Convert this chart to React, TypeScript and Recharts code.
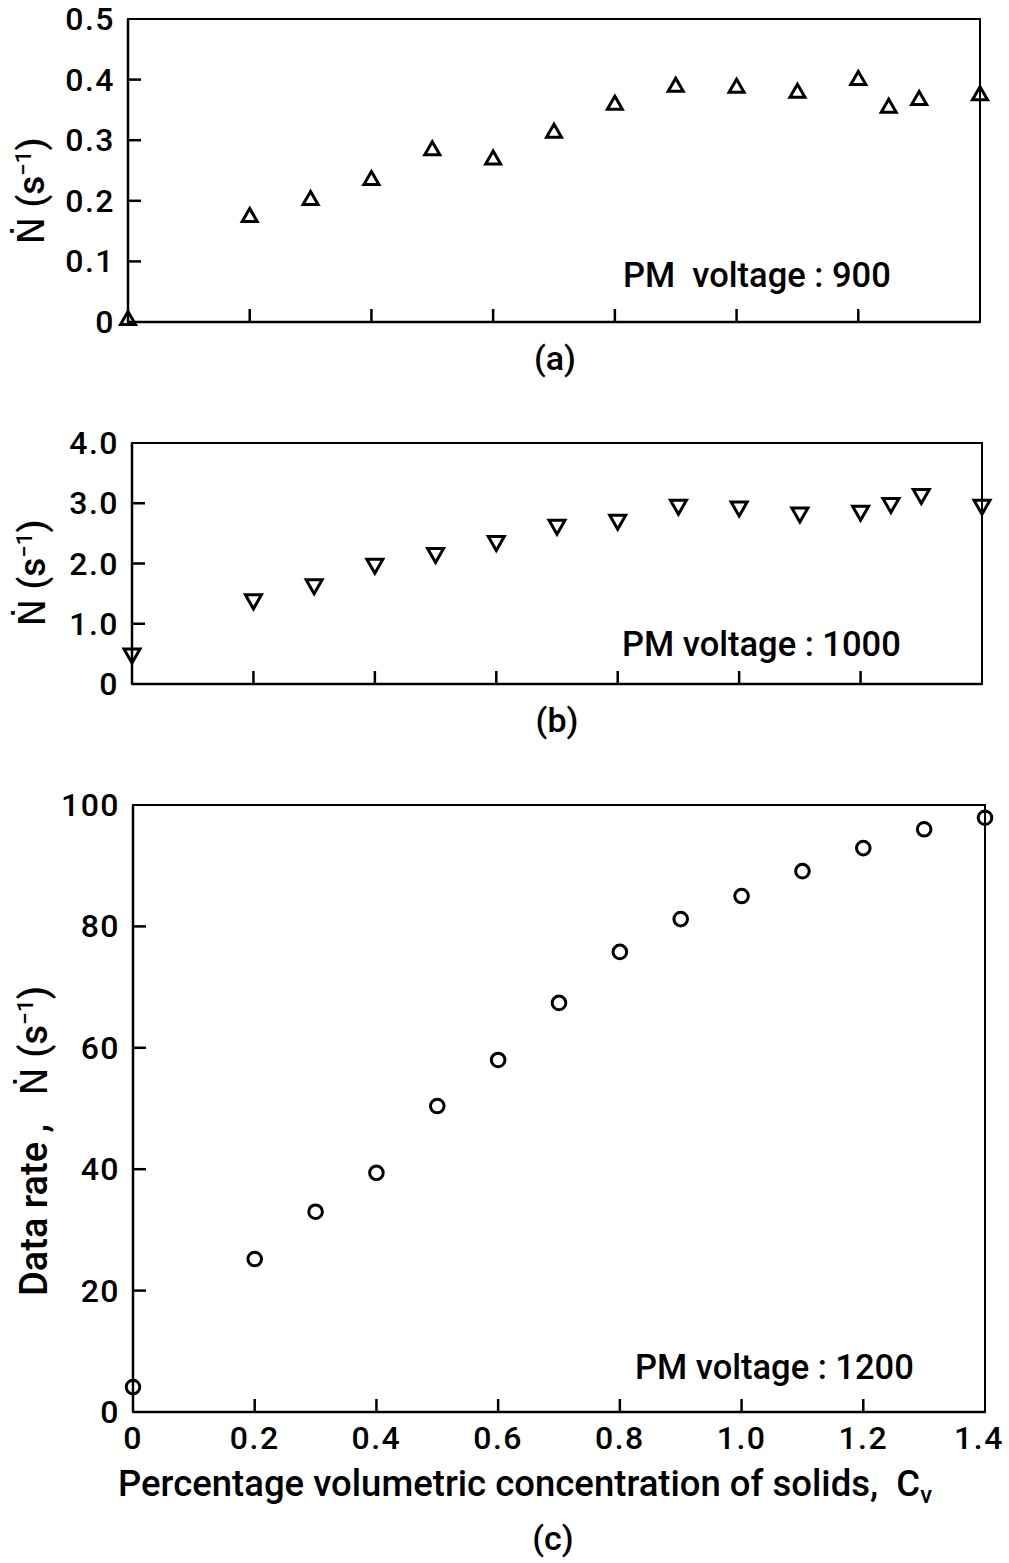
import React from 'react';
import { ScatterChart, Scatter, XAxis, YAxis, ReferenceArea } from 'recharts';

// ---- data ----
const concA = [0, 0.2, 0.3, 0.4, 0.5, 0.6, 0.7, 0.8, 0.9, 1.0, 1.1, 1.2, 1.25, 1.3, 1.4];
const rateA = [0.005, 0.175, 0.203, 0.236, 0.285, 0.27, 0.314, 0.36, 0.39, 0.388, 0.38, 0.401, 0.355, 0.368, 0.376];

const concB = [0, 0.2, 0.3, 0.4, 0.5, 0.6, 0.7, 0.8, 0.9, 1.0, 1.1, 1.2, 1.25, 1.3, 1.4];
const rateB = [0.48, 1.38, 1.63, 1.97, 2.15, 2.35, 2.62, 2.7, 2.95, 2.92, 2.82, 2.85, 2.98, 3.13, 2.95];

const concC = [0, 0.2, 0.3, 0.4, 0.5, 0.6, 0.7, 0.8, 0.9, 1.0, 1.1, 1.2, 1.3, 1.4];
const rateC = [4.1, 25.2, 33, 39.4, 50.4, 58, 67.4, 75.8, 81.2, 85, 89.1, 92.9, 96, 97.9];

const xTicks = [0, 0.2, 0.4, 0.6, 0.8, 1.0, 1.2, 1.4];
const xTickLabels = ['0', '0.2', '0.4', '0.6', '0.8', '1.0', '1.2', '1.4'];

const yTicksA = [0, 0.1, 0.2, 0.3, 0.4, 0.5];
const yTickLabelsA = ['0', '0.1', '0.2', '0.3', '0.4', '0.5'];
const yTicksB = [0, 1, 2, 3, 4];
const yTickLabelsB = ['0', '1.0', '2.0', '3.0', '4.0'];
const yTicksC = [0, 20, 40, 60, 80, 100];
const yTickLabelsC = ['0', '20', '40', '60', '80', '100'];

const zip = (xs: number[], ys: number[]) => xs.map((x, i) => ({ x, y: ys[i] }));
const dataA = zip(concA, rateA);
const dataB = zip(concB, rateB);
const dataC = zip(concC, rateC);

const FONT = 'Roboto, "DejaVu Sans", sans-serif';
const WEIGHT = 500;
const TICK_LEN = 13;
const SW = 2.5;

const makeXTick = (labels: string[] | null) => (props: any) => {
  const { x, y, index } = props;
  const inner = index > 0 && index < xTicks.length - 1;
  const last = index === xTicks.length - 1;
  return (
    <g>
      {inner && <line x1={x} y1={y} x2={x} y2={y - TICK_LEN} stroke="#000" strokeWidth={SW} />}
      {labels && (
        <text x={last ? x - 6 : x} y={y + 26} textAnchor="middle" dominantBaseline="central" fontFamily={FONT} fontWeight={WEIGHT} fontSize={32} fill="#000" letterSpacing={1.5}>
          {labels[index]}
        </text>
      )}
    </g>
  );
};

const makeYTick = (labels: string[]) => (props: any) => {
  const { x, y, index } = props;
  const inner = index > 0 && index < labels.length - 1;
  return (
    <g>
      {inner && <line x1={x} y1={y} x2={x + TICK_LEN} y2={y} stroke="#000" strokeWidth={SW} />}
      <text x={x - 13} y={y} textAnchor="end" dominantBaseline="central" fontFamily={FONT} fontWeight={WEIGHT} fontSize={32} fill="#000" letterSpacing={1.5}>
        {labels[index]}
      </text>
    </g>
  );
};

const TriUp = (p: any) => {
  const { cx, cy } = p;
  return <path d={`M${cx},${cy - 7.5} L${cx - 7.5},${cy + 5.5} L${cx + 7.5},${cy + 5.5} Z`} fill="none" stroke="#000" strokeWidth={3} strokeLinejoin="miter" />;
};
const TriDown = (p: any) => {
  const { cx, cy } = p;
  return <path d={`M${cx - 8},${cy - 6} L${cx + 8},${cy - 6} L${cx},${cy + 8} Z`} fill="none" stroke="#000" strokeWidth={3} strokeLinejoin="miter" />;
};
const Circ = (p: any) => {
  const { cx, cy } = p;
  return <circle cx={cx} cy={cy} r={6.8} fill="none" stroke="#000" strokeWidth={3} />;
};

const abs = (left: number, top: number, extra: React.CSSProperties = {}): React.CSSProperties => ({
  position: 'absolute',
  left,
  top,
  fontFamily: FONT,
  fontWeight: WEIGHT,
  color: '#000',
  lineHeight: 1,
  whiteSpace: 'nowrap',
  ...extra,
});

const NDot = () => (
  <span>
    Ṅ (s<sup style={{ fontSize: '0.6em', verticalAlign: '0.6em' }}>−1</sup>)
  </span>
);

export default function App() {
  return (
    <div style={{ position: 'absolute', left: 0, top: 0, width: 1009, height: 1563, background: '#fff', overflow: 'hidden' }}>
      {/* Panel (a) */}
      <div style={{ position: 'absolute', left: 0, top: 0 }}>
        <ScatterChart width={1009} height={340} margin={{ top: 19, right: 29, left: 0, bottom: 0 }}>
          <XAxis type="number" dataKey="x" domain={[0, 1.4]} ticks={xTicks} interval={0} height={18}
            tickSize={0} tickMargin={0} tickLine={false} axisLine={{ stroke: '#000', strokeWidth: SW }} tick={makeXTick(null)} />
          <YAxis type="number" dataKey="y" domain={[0, 0.5]} ticks={yTicksA} interval={0} width={128}
            tickSize={0} tickMargin={0} tickLine={false} axisLine={{ stroke: '#000', strokeWidth: SW }} tick={makeYTick(yTickLabelsA)} />
          <ReferenceArea x1={0} x2={1.4} y1={0} y2={0.5} fill="none" stroke="#000" strokeWidth={2} ifOverflow="visible" />
          <Scatter data={dataA} dataKey="y" shape={TriUp} isAnimationActive={false} />
        </ScatterChart>
      </div>
      <div style={abs(31, 191, { fontSize: 37, transform: 'translate(-50%, -50%) rotate(-90deg)' })}><NDot /></div>
      <div style={abs(623, 275, { fontSize: 34.5, transform: 'translateY(-50%)' })}>PM&nbsp;&nbsp;voltage : 900</div>
      <div style={abs(555, 358, { fontSize: 34, transform: 'translate(-50%, -50%)' })}>(a)</div>

      {/* Panel (b) */}
      <div style={{ position: 'absolute', left: 0, top: 420 }}>
        <ScatterChart width={1009} height={290} margin={{ top: 23, right: 27, left: 0, bottom: 0 }}>
          <XAxis type="number" dataKey="x" domain={[0, 1.4]} ticks={xTicks} interval={0} height={26}
            tickSize={0} tickMargin={0} tickLine={false} axisLine={{ stroke: '#000', strokeWidth: SW }} tick={makeXTick(null)} />
          <YAxis type="number" dataKey="y" domain={[0, 4]} ticks={yTicksB} interval={0} width={132}
            tickSize={0} tickMargin={0} tickLine={false} axisLine={{ stroke: '#000', strokeWidth: SW }} tick={makeYTick(yTickLabelsB)} />
          <ReferenceArea x1={0} x2={1.4} y1={0} y2={4} fill="none" stroke="#000" strokeWidth={2} ifOverflow="visible" />
          <Scatter data={dataB} dataKey="y" shape={TriDown} isAnimationActive={false} />
        </ScatterChart>
      </div>
      <div style={abs(32, 573, { fontSize: 37, transform: 'translate(-50%, -50%) rotate(-90deg)' })}><NDot /></div>
      <div style={abs(622, 644, { fontSize: 34.5, transform: 'translateY(-50%)' })}>PM voltage : 1000</div>
      <div style={abs(557, 720, { fontSize: 34, transform: 'translate(-50%, -50%)' })}>(b)</div>

      {/* Panel (c) */}
      <div style={{ position: 'absolute', left: 0, top: 770 }}>
        <ScatterChart width={1009} height={720} margin={{ top: 35, right: 24, left: 0, bottom: 0 }}>
          <XAxis type="number" dataKey="x" domain={[0, 1.4]} ticks={xTicks} interval={0} height={78}
            tickSize={0} tickMargin={0} tickLine={false} axisLine={{ stroke: '#000', strokeWidth: SW }} tick={makeXTick(xTickLabels)} />
          <YAxis type="number" dataKey="y" domain={[0, 100]} ticks={yTicksC} interval={0} width={133}
            tickSize={0} tickMargin={0} tickLine={false} axisLine={{ stroke: '#000', strokeWidth: SW }} tick={makeYTick(yTickLabelsC)} />
          <ReferenceArea x1={0} x2={1.4} y1={0} y2={100} fill="none" stroke="#000" strokeWidth={2} ifOverflow="visible" />
          <Scatter data={dataC} dataKey="y" shape={Circ} isAnimationActive={false} />
        </ScatterChart>
      </div>
      <div style={abs(34, 1141, { fontSize: 38, transform: 'translate(-50%, -50%) rotate(-90deg)' })}>
        Data rate ,&nbsp;&nbsp;&nbsp;<NDot />
      </div>
      <div style={abs(635, 1367, { fontSize: 34.5, transform: 'translateY(-50%)' })}>PM voltage : 1200</div>
      <div style={abs(118, 1487, { fontSize: 36.5, transform: 'translateY(-50%)' })}>
        Percentage volumetric concentration of solids,&nbsp;&nbsp;C<sub style={{ fontSize: '0.65em', verticalAlign: '-0.3em' }}>v</sub>
      </div>
      <div style={abs(553, 1538, { fontSize: 34, transform: 'translate(-50%, -50%)' })}>(c)</div>
    </div>
  );
}
